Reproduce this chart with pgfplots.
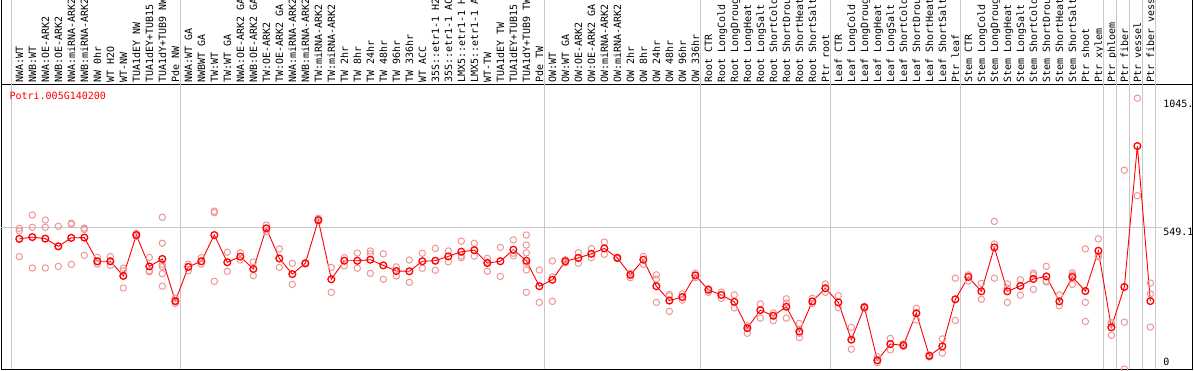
\documentclass[border=0pt]{standalone}
\usepackage{pgfplots}
\pgfplotsset{compat=1.18}
\usepackage{fontspec}
\setmainfont{DejaVu Sans Mono}
\setmonofont{DejaVu Sans Mono}
\definecolor{rep}{RGB}{238,150,150}
\definecolor{gridc}{RGB}{200,200,200}
\begin{document}
\begin{tikzpicture}[x=1pt,y=1pt]
\path[use as bounding box, clip] (0,0) rectangle (1194,370);
\begin{axis}[
  at={(1.3pt,1pt)}, anchor=south west,
  width=1191pt, height=284pt, scale only axis,
  xmin=-1.385, xmax=90.23, ymin=0, ymax=1104.4,
  axis line style={black, line width=1pt},
  clip=false,
  tick style={draw=none}, major tick length=0pt,
  xtick={0,...,87},
  xticklabels={NWA:WT,NWB:WT,NWA:OE-ARK2,NWB:OE-ARK2,NWA:miRNA-ARK2,NWB:miRNA-ARK2,NW 0hr,WT H2O,WT-NW,TUA1dEY NW,TUA1dEY+TUB15 NW,TUA1dY+TUB9 NW,Pde NW,
    NWA:WT GA,NWBWT GA,TW:WT,TW:WT GA,NWA:OE-ARK2 GA,NWB:OE-ARK2 GA,TW:OE-ARK2,TW:OE-ARK2 GA,NWA:miRNA-ARK2,NWB:miRNA-ARK2,TW:miRNA-ARK2,TW:miRNA-ARK2,TW 2hr,TW 8hr,TW 24hr,TW 48hr,TW 96hr,TW 336hr,WT ACC,35S::etr1-1 H2O,35S::etr1-1 ACC,LMX5::etr1-1 H2O,LMX5::etr1-1 ACC,WT-TW,TUA1dEY TW,TUA1dEY+TUB15 TW,TUA1dY+TUB9 TW,Pde TW,
    OW:WT,OW:WT GA,OW:OE-ARK2,OW:OE-ARK2 GA,OW:miRNA-ARK2,OW:miRNA-ARK2,OW 2hr,OW 8hr,OW 24hr,OW 48hr,OW 96hr,OW 336hr,
    Root CTR,Root LongCold,Root LongDrought,Root LongHeat,Root LongSalt,Root ShortCold,Root ShortDrought,Root ShortHeat,Root ShortSalt,Ptr root,
    Leaf CTR,Leaf LongCold,Leaf LongDrought,Leaf LongHeat,Leaf LongSalt,Leaf ShortCold,Leaf ShortDrought,Leaf ShortHeat,Leaf ShortSalt,Ptr leaf,
    Stem CTR,Stem LongCold,Stem LongDrought,Stem LongHeat,Stem LongSalt,Stem ShortCold,Stem ShortDrought,Stem ShortHeat,Stem ShortSalt,Ptr shoot,
    Ptr xylem,Ptr phloem,Ptr fiber,Ptr vessel,Ptr fiber vessel},
  xticklabel pos=upper,
  xticklabel style={rotate=90, anchor=north west, text height=3.6pt, text depth=0pt, inner xsep=2pt, inner ysep=0pt, font=\fontsize{10}{12}\selectfont},
  ytick={549.1,1045}, yticklabels={549.1,1045.},
  yticklabel pos=right,
  yticklabel style={anchor=north west, xshift=-29.3pt, inner sep=0pt, font=\fontsize{10}{12}\selectfont},
  extra y ticks={0}, extra y tick labels={0},
  extra y tick style={yticklabel style={anchor=base west, yshift=3.3pt}},
]
% separators
\foreach \s in {-0.62,12.42,40.4,52.4,62.42,72.42,83.4,84.4,85.4,86.4,87.4}{
  \edef\tmp{\noexpand\draw[gridc, line width=0.9pt] (axis cs:\s,0) -- (axis cs:\s,1500);}\tmp
}
\draw[gridc, line width=0.9pt] (axis cs:-1.385,549.1) -- (axis cs:87.9,549.1);
\draw[black, line width=1pt] (axis cs:-1.385,1104.4) -- (axis cs:-1.385,1500);
\draw[black, line width=1pt] (axis cs:90.23,1104.4) -- (axis cs:90.23,1500);
% replicates
\addplot[only marks, mark=o, mark size=3.2pt, mark options={rep, line width=1pt}] table {
x y
0 547
0 537
0 437
1 599
1 551
1 393
2 579
2 551
2 393
3 555
3 477
3 399
4 567
4 563
4 407
5 548
5 543
5 442
6 434
6 417
6 408
7 437
7 419
7 403
8 392
8 382
8 315
9 527
9 521
9 515
10 434
10 382
10 378
11 590
11 489
11 407
11 398
11 371
11 322
12 275
12 264
12 255
13 408
13 382
14 433
14 408
15 614
15 608
15 341
16 454
16 380
17 452
17 424
18 416
18 363
19 560
19 534
20 467
20 395
21 411
21 329
22 413
22 409
23 586
23 573
24 395
24 298
25 433
25 401
26 451
26 392
27 459
27 448
27 372
28 448
28 349
29 397
29 362
30 424
30 337
31 450
31 392
32 469
32 384
33 459
33 417
34 497
34 440
34 433
35 489
35 439
36 430
36 416
36 380
37 473
37 360
38 502
38 450
38 440
39 521
39 482
39 452
39 412
39 385
39 298
40 385
40 259
41 420
41 358
41 263
42 425
42 413
43 452
43 411
44 468
44 433
45 494
45 446
46 434
46 430
47 372
47 355
48 438
48 407
49 366
49 350
49 259
50 290
50 284
50 224
51 292
51 268
52 373
52 355
53 312
53 298
54 299
54 275
55 288
55 238
56 168
56 159
56 139
57 253
57 198
58 218
58 188
59 273
59 257
59 198
60 177
60 139
60 122
61 275
61 255
62 331
62 298
63 285
63 238
64 162
64 77
65 244
65 236
66 48
66 25
67 119
67 74
68 98
68 88
69 236
69 191
70 54
70 47
71 117
71 62
72 353
72 189
73 366
73 342
74 333
74 271
75 574
75 486
75 353
76 331
76 315
76 259
77 347
77 323
77 287
78 373
78 366
78 310
79 399
79 342
79 339
80 288
80 246
81 374
81 366
81 329
82 467
82 259
82 185
83 506
83 441
83 436
84 180
84 175
84 131
85 773
85 182
85 0
86 1053
86 674
87 334
87 292
87 163
};
% means
\addplot[red, line width=0.9pt, mark=o, mark size=3.4pt, mark options={red, line width=1.3pt}] table {
x y
0 506
1 513
2 507
3 477
4 510
5 511
6 419
7 419
8 362
9 521
10 399
11 428
12 264
13 397
14 419
15 521
16 415
17 437
18 389
19 547
20 430
21 369
22 411
23 579
24 349
25 421
26 421
27 425
28 403
29 381
30 380
31 419
32 421
33 438
34 456
35 462
36 412
37 419
38 464
39 421
40 322
41 347
42 419
43 432
44 448
45 469
46 432
47 366
48 425
49 322
50 266
51 280
52 364
53 308
54 288
55 261
56 159
57 229
58 207
59 242
60 146
61 263
62 314
63 259
64 114
65 240
66 34
67 97
68 92
69 217
70 51
71 88
72 271
73 358
74 302
75 473
76 302
77 323
78 350
79 360
80 263
81 358
82 303
83 460
84 162
85 319
86 867
87 264
};
\end{axis}
\node[anchor=base west, inner sep=0pt, text=red, font=\fontsize{10}{12}\selectfont] at (9.4,270.3) {Potri.005G140200};
\end{tikzpicture}
\end{document}
